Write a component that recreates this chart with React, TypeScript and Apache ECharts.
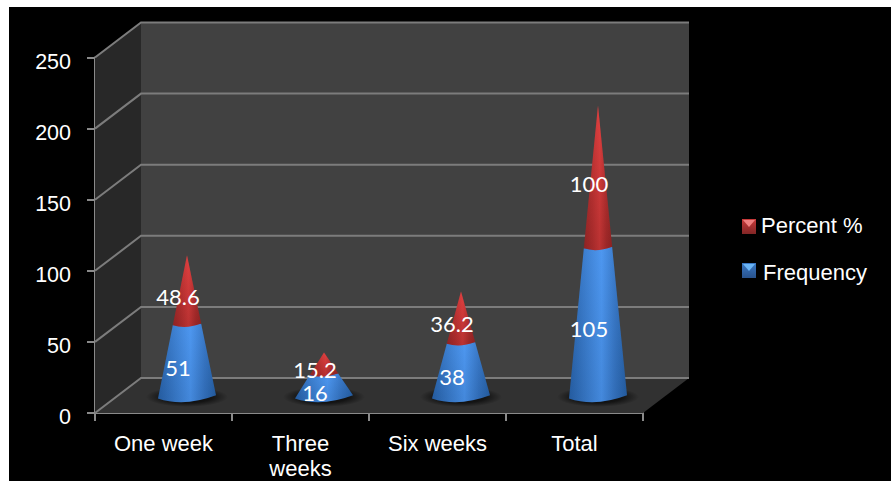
import React, { useEffect, useRef } from "react";
import * as echarts from "echarts";

const categories = ["One week", "Three\nweeks", "Six weeks", "Total"];
const frequency = [51, 16, 38, 105];
const percent = [48.6, 15.2, 36.2, 100];
const valueTicks = [0, 50, 100, 150, 200, 250];

const TEXT_FONT = '"Liberation Sans", Arial, sans-serif';
const LABEL_FONT = 'Lato, "Noto Sans", sans-serif';

// Depth of the box drawn behind the axes, in pixels.
const DEPTH_X = 46;
const DEPTH_Y = -35;
const CONE_RADIUS = 29;
// How far into the box the cones stand, as a share of the vertical depth.
const CONE_DEPTH = 0.46;

const FLAT_GRADIENT = (x0: number, x1: number, stops: [number, string][]) =>
  new echarts.graphic.LinearGradient(
    x0, 0, x1, 0,
    stops.map(([offset, color]) => ({ offset, color })),
    true
  );

const BLUE_STOPS: [number, string][] = [
  [0, "#2862a8"],
  [0.28, "#3a7ccb"],
  [0.56, "#4c96ee"],
  [0.8, "#3675c2"],
  [1, "#2660a4"],
];
const RED_STOPS: [number, string][] = [
  [0, "#9c2a2a"],
  [0.3, "#b93333"],
  [0.56, "#d63e3e"],
  [0.8, "#ad2f2f"],
  [1, "#982828"],
];

// Box walls, floor and gridlines; every corner comes from the axis scales.
function renderBox(_params: any, api: any) {
  const band = api.size([1, 0])[0];
  const left = api.coord([0, 0])[0] - band / 2;
  const right = api.coord([categories.length - 1, 0])[0] + band / 2;
  const bottom = api.coord([0, 0])[1];
  const top = api.coord([0, valueTicks[valueTicks.length - 1]])[1];
  const poly = (points: number[][], fill: string) => ({
    type: "polygon",
    shape: { points },
    style: { fill },
  });
  const children: any[] = [
    poly(
      [
        [left + DEPTH_X, top + DEPTH_Y],
        [right + DEPTH_X, top + DEPTH_Y],
        [right + DEPTH_X, bottom + DEPTH_Y],
        [left + DEPTH_X, bottom + DEPTH_Y],
      ],
      "#414141"
    ),
    poly(
      [
        [left, top],
        [left + DEPTH_X, top + DEPTH_Y],
        [left + DEPTH_X, bottom + DEPTH_Y],
        [left, bottom],
      ],
      "#282828"
    ),
    poly(
      [
        [left, bottom],
        [left + DEPTH_X, bottom + DEPTH_Y],
        [right + DEPTH_X, bottom + DEPTH_Y],
        [right, bottom],
      ],
      "#313131"
    ),
  ];
  valueTicks.forEach((tick) => {
    const y = api.coord([0, tick])[1];
    children.push({
      type: "polyline",
      shape: {
        points: [
          [left, y],
          [left + DEPTH_X, y + DEPTH_Y],
          [right + DEPTH_X, y + DEPTH_Y],
        ],
      },
      style: { fill: "none", stroke: "#7c7c7c", lineWidth: 2 },
    });
  });
  return { type: "group", children };
}

// One segment of a stacked cone that narrows to the top of its own stack.
function coneSegment(
  api: any,
  from: number,
  to: number,
  total: number,
  stops: [number, string][],
  shade: [string, string]
) {
  const base = api.coord([api.value(0), 0]);
  const cx = base[0] + 0.5 * DEPTH_X + 0.5;
  const offsetY = CONE_DEPTH * DEPTH_Y;
  const at = (v: number) => api.coord([api.value(0), v])[1] + offsetY;
  const radius = (v: number) => CONE_RADIUS * (1 - v / total);
  const lowY = at(from);
  const highY = at(to);
  const rLow = radius(from);
  const rHigh = radius(to);
  const tilt = rLow * 0.055;
  const sag = rLow * 0.36;
  const d = [
    `M ${cx - rLow} ${lowY + tilt}`,
    `Q ${cx - rLow * 0.1} ${lowY + sag} ${cx + rLow} ${lowY - tilt}`,
    `L ${cx + rHigh} ${highY - rHigh * 0.05}`,
    `L ${cx - rHigh} ${highY + rHigh * 0.05}`,
    "Z",
  ].join(" ");
  const fill = FLAT_GRADIENT(cx - rLow, cx + rLow, stops);
  const overlay = new echarts.graphic.LinearGradient(
    0, highY, 0, lowY,
    [
      { offset: 0, color: shade[0] },
      { offset: 1, color: shade[1] },
    ],
    true
  );
  return [
    { type: "path", shape: { pathData: d }, style: { fill } },
    { type: "path", shape: { pathData: d }, style: { fill: overlay } },
  ];
}

function valueLabel(api: any, text: string, mid: number) {
  const at = api.coord([api.value(0), mid]);
  return {
    type: "text",
    x: at[0] + 14.5,
    y: at[1] - 9.5,
    z2: 10,
    style: {
      text,
      fill: "#ffffff",
      font: `22px ${LABEL_FONT}`,
      align: "center",
      verticalAlign: "middle",
    },
  };
}

function renderFrequency(_params: any, api: any) {
  const f = api.value(1);
  const p = api.value(2);
  const base = api.coord([api.value(0), 0]);
  const cx = base[0] + 0.5 * DEPTH_X + 0.5;
  const shadowY = base[1] + CONE_DEPTH * DEPTH_Y;
  const shadow = {
    type: "ellipse",
    shape: { cx, cy: shadowY, rx: 41, ry: 10 },
    style: {
      fill: new echarts.graphic.RadialGradient(0.5, 0.5, 0.5, [
        { offset: 0, color: "rgba(0,0,0,0.8)" },
        { offset: 0.6, color: "rgba(0,0,0,0.6)" },
        { offset: 1, color: "rgba(0,0,0,0)" },
      ]),
    },
  };
  return {
    type: "group",
    children: [
      shadow,
      ...coneSegment(api, 0, f, f + p, BLUE_STOPS, ["rgba(90,160,255,0.12)", "rgba(10,40,90,0.12)"]),
      valueLabel(api, String(f), f / 2),
    ],
  };
}

function renderPercent(_params: any, api: any) {
  const f = api.value(1);
  const p = api.value(2);
  return {
    type: "group",
    children: [
      ...coneSegment(api, f, f + p, f + p, RED_STOPS, ["rgba(255,70,70,0.25)", "rgba(90,10,10,0.22)"]),
      valueLabel(api, String(p), f + p / 2),
    ],
  };
}

const rows = categories.map((_, i) => [i, frequency[i], percent[i]]);

const MARKER_LEFT = 742;
const MARKER_SIZE = [14, 15];

// A legend block of its own for one series, placed at its row.
function legendEntry(name: string, top: number, color: string, textPadding: number[]) {
  return {
    orient: "vertical",
    left: MARKER_LEFT,
    top,
    padding: 0,
    itemWidth: MARKER_SIZE[0],
    itemHeight: 10,
    selectedMode: false,
    data: [{ name, icon: "rect", itemStyle: { color } }],
    textStyle: { color: "#ffffff", fontSize: 22, fontFamily: TEXT_FONT, padding: textPadding },
  };
}

// The bevelled square shown beside a legend entry: a shaded face with a light wedge on top.
function bevelMarker(y: number, colors: [string, string], light: string) {
  return [
    {
      type: "rect",
      z: 19,
      shape: { x: MARKER_LEFT, y, width: MARKER_SIZE[0], height: MARKER_SIZE[1] },
      style: {
        fill: new echarts.graphic.LinearGradient(0, 0, 0, 1, [
          { offset: 0, color: colors[0] },
          { offset: 1, color: colors[1] },
        ]),
      },
    },
    {
      type: "polygon",
      z: 20,
      shape: {
        points: [
          [MARKER_LEFT + 1, y + 1],
          [MARKER_LEFT + 13, y + 1],
          [MARKER_LEFT + 7, y + 8],
        ],
      },
      style: { fill: light },
    },
  ];
}

export default function App() {
  const ref = useRef<HTMLDivElement>(null);

  useEffect(() => {
    document.body.style.margin = "0";
    document.body.style.background = "#ffffff";
    const chart = echarts.init(ref.current as HTMLDivElement, null, { renderer: "svg" });
    chart.setOption({
      animation: false,
      backgroundColor: "transparent",
      graphic: [
        {
          type: "rect",
          z: -10,
          silent: true,
          shape: { x: 9, y: 7, width: 882, height: 474 },
          style: { fill: "#000000" },
        },
        ...bevelMarker(219, ["#c83a3a", "#822626"], "#f08080"),
        ...bevelMarker(263, ["#3a78c4", "#28528c"], "#6ab4f5"),
      ],
      grid: { left: 95, top: 57.5, width: 548, height: 355.5, outerBoundsMode: "none" },
      legend: [
        legendEntry("Percent %", 214, "#b23232", [0, 0, 0, 0]),
        legendEntry("Frequency", 261, "#3268ac", [0, 0, 0, 2]),
      ],
      xAxis: {
        type: "category",
        data: categories,
        axisLine: { lineStyle: { color: "#8a8a8a", width: 2 } },
        axisTick: { show: true, length: 8, lineStyle: { color: "#8a8a8a", width: 2 } },
        axisLabel: {
          color: "#ffffff",
          fontSize: 22,
          fontFamily: TEXT_FONT,
          margin: 18,
          lineHeight: 25,
          interval: 0,
        },
      },
      yAxis: {
        type: "value",
        min: 0,
        max: 250,
        interval: 50,
        axisLine: { show: true, lineStyle: { color: "#8a8a8a", width: 2 } },
        axisTick: { show: true, length: 8, lineStyle: { color: "#8a8a8a", width: 2 } },
        splitLine: { show: false },
        axisLabel: {
          color: "#ffffff",
          fontSize: 21.5,
          fontFamily: TEXT_FONT,
          margin: 24,
          verticalAlign: "top",
          lineHeight: 8,
        },
      },
      series: [
        {
          type: "custom",
          name: "box",
          z: 1,
          silent: true,
          renderItem: renderBox,
          data: [[0, 0]],
          clip: false,
        },
        {
          type: "custom",
          name: "Frequency",
          z: 3,
          silent: true,
          renderItem: renderFrequency,
          data: rows,
          encode: { x: 0, y: 1 },
          clip: false,
        },
        {
          type: "custom",
          name: "Percent %",
          z: 4,
          silent: true,
          renderItem: renderPercent,
          data: rows,
          encode: { x: 0, y: 1 },
          clip: false,
        },
      ],
    });
    return () => chart.dispose();
  }, []);

  return <div ref={ref} style={{ width: 891, height: 481 }} />;
}
